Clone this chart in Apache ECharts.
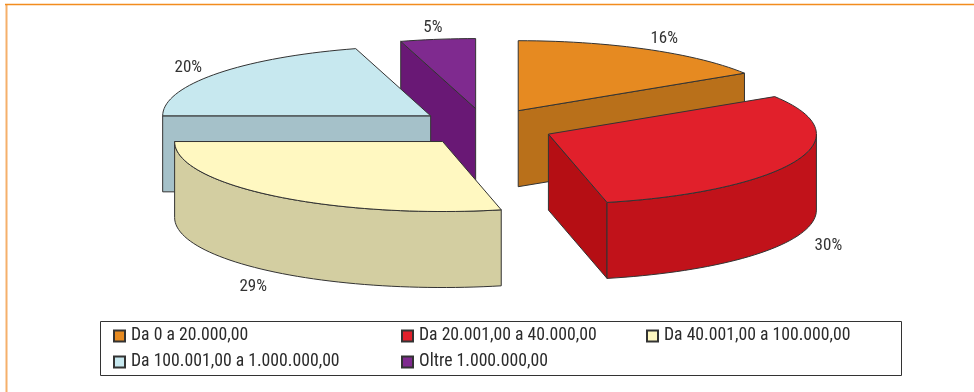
<!DOCTYPE html>
<html><head><meta charset="utf-8">
<style>html,body{margin:0;padding:0;background:#fff}#c{width:974px;height:392px}</style>
<script src="https://cdn.jsdelivr.net/npm/echarts@6/dist/echarts.min.js"></script>
</head><body><div id="c"></div>
<script>
// ---- data ----
const categories = ['Da 0 a 20.000,00','Da 20.001,00 a 40.000,00','Da 40.001,00 a 100.000,00','Da 100.001,00 a 1.000.000,00','Oltre 1.000.000,00'];
const shares = [16, 30.49, 28.51, 20.49, 4.51];
const topColors = ['#E68A21','#E1202B','#FFF8C1','#C7E8EF','#7F2A8F'];
const arcColors = ['#B9701A','#C1121A','#D3CEA1','#A5C1C9','#691875'];
const radialColors = ['#B9701A','#B50E14','#D3CEA1','#A5C1C9','#691875'];
const paintOrder = [4,0,3,2,1];
// ---- pie projection ----
const CX=485.3, CY=127, RX=268, RY=70, DEPTH=76, EX=68.3, EY=18.6;
const STROKE='#333', FONT='"Liberation Sans Narrow","Roboto Condensed","Liberation Sans",sans-serif';
const total = shares.reduce((a,b)=>a+b,0);
const rad = d=>d*Math.PI/180;

function sliceItem(i, api){
  const before = shares.slice(0,i).reduce((a,b)=>a+b,0);
  const value = api.value(0);
  const a = before/total*360, b = (before+value)/total*360, mid=(a+b)/2;
  const ax = CX+EX*Math.sin(rad(mid)), ay = CY-EY*Math.cos(rad(mid));
  const P = (t,h=0)=>[ax+RX*Math.sin(rad(t)), ay-RY*Math.cos(rad(t))+h];
  const arc = (s,e,h=0)=>{const o=[];const n=Math.max(2,Math.ceil((e-s)/2));for(let k=0;k<=n;k++)o.push(P(s+(e-s)*k/n,h));return o;};
  const poly=(pts,fill)=>({type:'polygon',shape:{points:pts},style:{fill,stroke:STROKE,lineWidth:1,lineJoin:'round'}});
  const kids=[];
  if(Math.sin(rad(a))<-1e-6) kids.push(poly([[ax,ay],P(a),P(a,DEPTH),[ax,ay+DEPTH]],radialColors[i]));
  if(Math.sin(rad(b))>1e-6) kids.push(poly([[ax,ay],P(b),P(b,DEPTH),[ax,ay+DEPTH]],radialColors[i]));
  const s=Math.max(a,90), e=Math.min(b,270);
  if(e>s) kids.push(poly(arc(s,e).concat(arc(s,e,DEPTH).reverse()),arcColors[i]));
  kids.push(poly([[ax,ay]].concat(arc(a,b)),topColors[i]));
  const rim=P(mid, Math.cos(rad(mid))<0?DEPTH:0);
  kids.push({type:'text',x:rim[0]+35*Math.sin(rad(mid)),y:rim[1]+3-15*Math.cos(rad(mid)),
    style:{text:Math.round(value)+'%',font:'17px '+FONT,fill:'#333',align:'center',verticalAlign:'middle'}});
  return {type:'group',children:kids};
}

const series = categories.map((name,i)=>({
  type:'custom', name, coordinateSystem:'none', silent:true,
  z:2+paintOrder.indexOf(i), itemStyle:{color:topColors[i],borderColor:'#333',borderWidth:1},
  data:[[shares[i]]], renderItem:(p,api)=>sliceItem(i,api), animation:false
}));

const legendBase={orient:'vertical',itemWidth:11,itemHeight:11,itemGap:8,icon:'rect',
  textStyle:{fontFamily:FONT,fontSize:17.7,lineHeight:11,color:'#2b2b2b',padding:[0,0,0,1]},selectedMode:false};
const chart=echarts.init(document.getElementById('c'),null,{renderer:'canvas'});
chart.setOption({
  animation:false,backgroundColor:'#fff',
  graphic:[
    {type:'polyline',z:0,shape:{points:[[6.5,392],[6.5,4.5]]},style:{fill:'none',stroke:'#F5B06B',lineWidth:2}},
    {type:'polyline',z:0,shape:{points:[[5,4.5],[974,4.5]]},style:{fill:'none',stroke:'#F28C1E',lineWidth:1.5}},
    {type:'rect',z:1,shape:{x:100.5,y:321.5,width:801,height:54},style:{fill:'#fff',stroke:'#333',lineWidth:1}}
  ],
  legend:[
    {...legendBase,left:108,top:322,data:[categories[0],categories[3]]},
    {...legendBase,left:396,top:322,data:[categories[1],categories[4]]},
    {...legendBase,left:641,top:322,data:[categories[2]]}
  ],
  series
});
</script></body></html>
